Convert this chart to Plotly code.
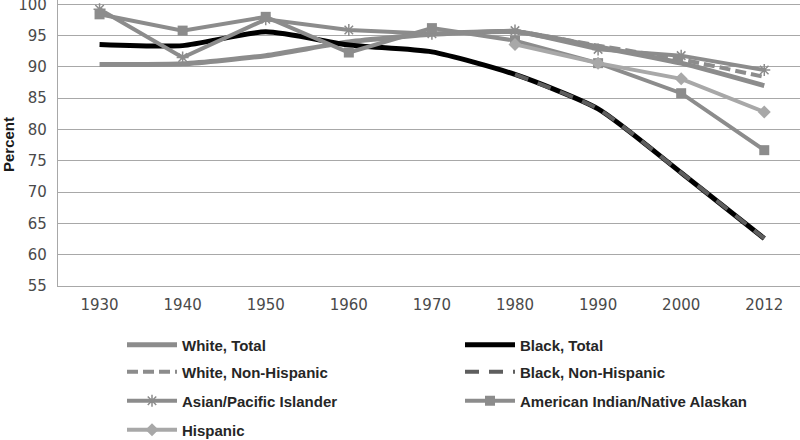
import plotly.graph_objects as go

years = ["1930", "1940", "1950", "1960", "1970", "1980", "1990", "2000", "2012"]
white_total = [90.4, 90.5, 91.8, 94.0, 95.2, 95.6, 93.2, 90.6, 87.0]
white_nh = [None, None, None, None, None, 95.8, 93.4, 91.2, 88.4]
black_total = [93.6, 93.4, 95.6, 93.5, 92.4, 88.8, 83.3, 73.1, 62.6]
black_nh = [None, None, None, None, None, 88.8, 83.3, 73.1, 62.6]
asian = [99.2, 91.5, 97.6, 95.9, 95.3, 95.8, 92.8, 91.8, 89.5]
aian = [98.4, 95.8, 98.0, 92.3, 96.2, 94.2, 90.6, 85.8, 76.7]
hispanic = [None, None, None, None, None, 93.6, 90.6, 88.1, 82.8]
y_ticks = [55, 60, 65, 70, 75, 80, 85, 90, 95, 100]

GRAY = "#8c8c8c"
LIGHT = "#a8a8a8"

fig = go.Figure()
fig.add_trace(go.Scatter(x=years, y=white_total, name="White, Total", mode="lines",
                         line=dict(color=GRAY, width=5, shape="spline", smoothing=0.6),
                         legend="legend"))
fig.add_trace(go.Scatter(x=years, y=black_total, name="Black, Total", mode="lines",
                         line=dict(color="#000000", width=5, shape="spline", smoothing=0.6),
                         legend="legend2"))
fig.add_trace(go.Scatter(x=years, y=white_nh, name="White, Non-Hispanic", mode="lines",
                         line=dict(color=GRAY, width=4, dash="11px,5px", shape="spline", smoothing=0.6),
                         legend="legend3"))
fig.add_trace(go.Scatter(x=years, y=black_nh, name="Black, Non-Hispanic", mode="lines",
                         line=dict(color="#5e5e5e", width=4, dash="14px,10px", shape="spline", smoothing=0.6),
                         legend="legend4"))
fig.add_trace(go.Scatter(x=years, y=asian, name="Asian/Pacific Islander", mode="lines+markers",
                         line=dict(color=GRAY, width=4),
                         marker=dict(symbol="asterisk-open", size=10, color=GRAY,
                                     line=dict(color=GRAY, width=1.5)),
                         legend="legend5"))
fig.add_trace(go.Scatter(x=years, y=aian, name="American Indian/Native Alaskan", mode="lines+markers",
                         line=dict(color=GRAY, width=4),
                         marker=dict(symbol="square", size=10, color=GRAY),
                         legend="legend6"))
fig.add_trace(go.Scatter(x=years, y=hispanic, name="Hispanic", mode="lines+markers",
                         line=dict(color=LIGHT, width=4),
                         marker=dict(symbol="diamond", size=10, color=LIGHT),
                         legend="legend7"))

W, H = 800, 440
col_x = [122, 460]
row_y = [345, 372, 401, 430]


def leg(col, row):
    return dict(orientation="v", xref="container", yref="container",
                xanchor="left", yanchor="middle",
                x=col_x[col] / W, y=1 - row_y[row] / H,
                itemwidth=50,
                font=dict(family="Liberation Sans", size=15, color="#262626", weight="bold"),
                bgcolor="rgba(0,0,0,0)")


fig.update_layout(
    width=W, height=H,
    margin=dict(l=58, r=0, t=0, b=154, autoexpand=False),
    paper_bgcolor="white", plot_bgcolor="white",
    showlegend=True,
    legend=leg(0, 0), legend2=leg(1, 0),
    legend3=leg(0, 1), legend4=leg(1, 1),
    legend5=leg(0, 2), legend6=leg(1, 2),
    legend7=leg(0, 3),
    font=dict(family="DejaVu Sans", color="#4a4a4a"),
    annotations=[dict(text="<b>Percent</b>", textangle=-90, xref="paper", yref="paper",
                      x=-50 / 742, y=(286 - 145) / 286, xanchor="center", yanchor="middle",
                      showarrow=False,
                      font=dict(family="Liberation Sans", size=15, color="#1a1a1a"))],
)
fig.update_xaxes(type="category", range=[-0.5, 8.43], showgrid=False, automargin=False,
                 showline=True, linecolor="#a8a8a8", linewidth=1.3,
                 tickfont=dict(family="DejaVu Sans", size=15, color="#4a4a4a"),
                 ticks="", ticklabelstandoff=5)
fig.update_yaxes(range=[55, 100.69], tickmode="array", tickvals=y_ticks,
                 ticklabeloverflow="allow",
                 showgrid=True, gridcolor="#a8a8a8", gridwidth=1.3,
                 automargin=False,
                 showline=True, linecolor="#a8a8a8", linewidth=1.3, zeroline=False,
                 tickfont=dict(family="DejaVu Sans", size=15, color="#4a4a4a"),
                 ticks="", ticklabelstandoff=7)

fig.write_html("out.html", config={"displayModeBar": False},
               post_script="document.body.style.margin='0';")
